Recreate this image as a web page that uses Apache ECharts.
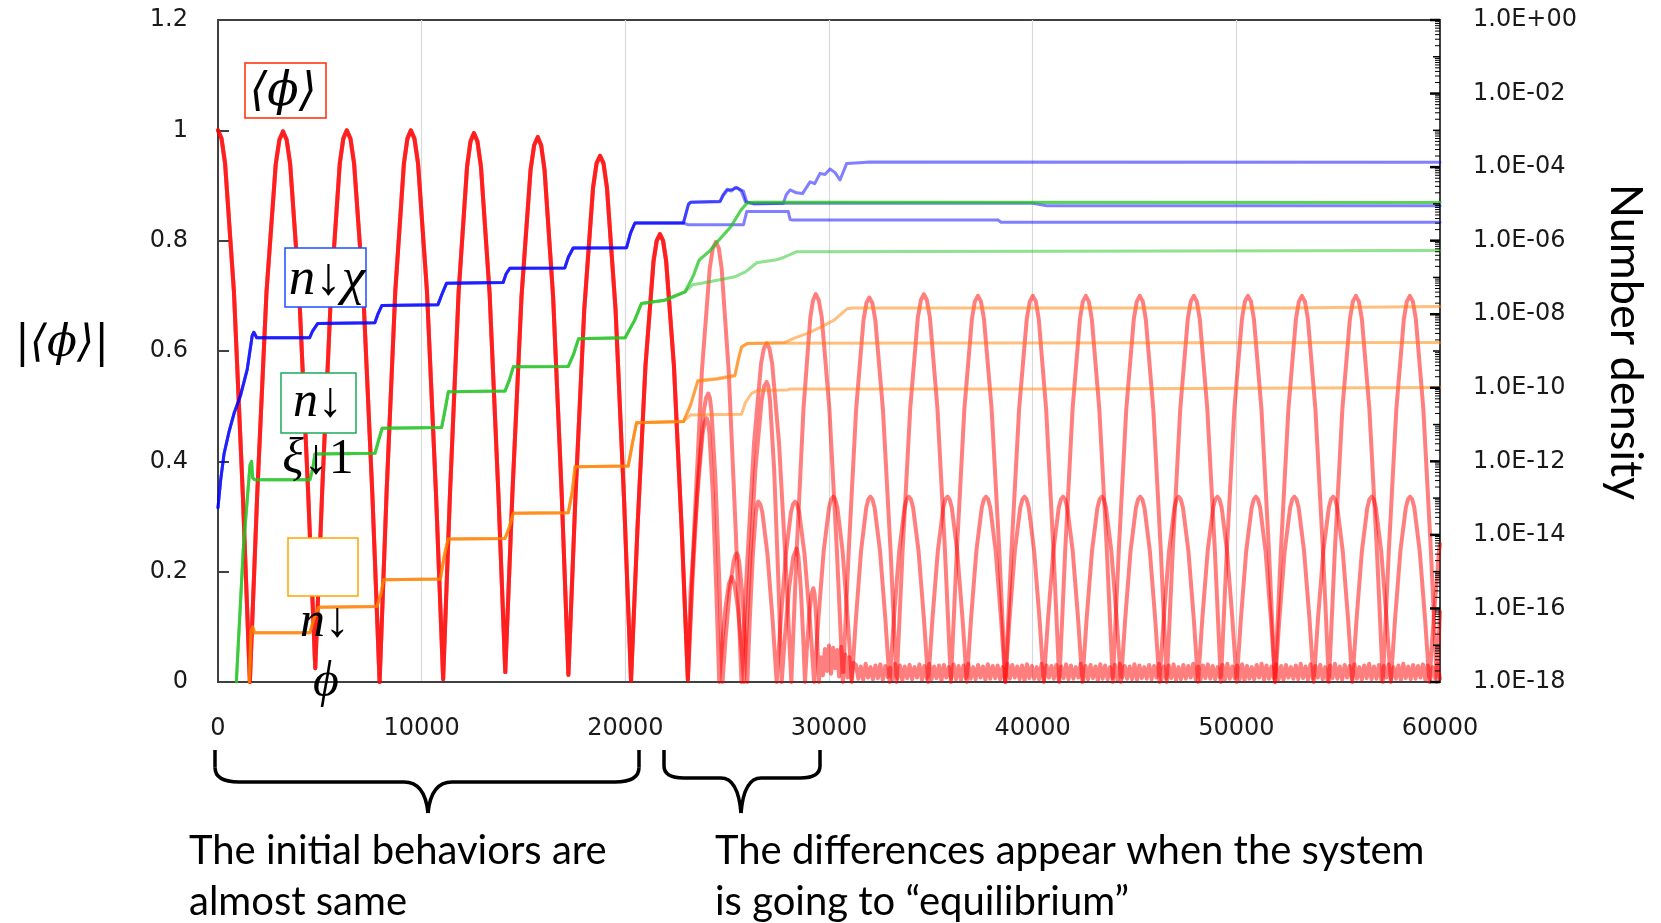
<!DOCTYPE html>
<html><head><meta charset="utf-8">
<script src="https://cdn.jsdelivr.net/npm/echarts@6/dist/echarts.min.js"></script>
<style>html,body{margin:0;padding:0;background:#fff}#c{width:1661px;height:923px}</style>
</head><body><div id="c"></div>
<script>
// ---------- axes ----------
const xTicks = [0, 10000, 20000, 30000, 40000, 50000, 60000];
const leftTicks = [0, 0.2, 0.4, 0.6, 0.8, 1, 1.2];
const rightExponents = [-18, -16, -14, -12, -10, -8, -6, -4, -2, 0];

// ---------- |<phi>| (left axis), shared part of the three runs ----------
const phiShared = [
[0,1.0],[174,0.985],[348,0.94],[783,0.707],[1217,0.342],[1565,0],
[1927,0.341],[2380,0.706],[2833,0.938],[3014,0.983],[3195,0.998],[3371,0.983],
[3546,0.938],[3985,0.706],[4425,0.345],[4776,0.025],
[5120,0.35],[5550,0.707],[5980,0.94],[6152,0.985],[6324,1.0],[6503,0.985],
[6682,0.94],[7130,0.707],[7577,0.342],[7935,0],
[8276,0.342],[8703,0.707],[9129,0.94],[9300,0.985],[9470,1.0],[9646,0.985],
[9822,0.94],[10262,0.707],[10703,0.342],[11055,0.005],
[11391,0.342],[11811,0.704],[12231,0.935],[12399,0.98],[12567,0.995],[12738,0.98],
[12909,0.935],[13336,0.704],[13763,0.345],[14105,0.018],
[14459,0.345],[14903,0.699],[15346,0.928],[15523,0.973],[15700,0.988],[15867,0.973],
[16034,0.928],[16453,0.699],[16871,0.345],[17205,0.013],
[17550,0.335],[17983,0.675],[18415,0.896],[18587,0.94],[18760,0.954],[18929,0.94],
[19098,0.896],[19520,0.675],[19942,0.326],[20280,0.002],
[20595,0.278],[20990,0.574],[21385,0.763],[21542,0.80],[21700,0.812],[21852,0.80],
[22004,0.763],[22385,0.574],[22766,0.278],[23070,0.004]
];
const phiLateA = [
[23376,0.273],[23760,0.564],[24144,0.75],[24297,0.786],[24450,0.798],[24589,0.786],
[24728,0.75],[25075,0.564],[25422,0.273],[25700,0],
[25975,0.21],[26320,0.434],[26665,0.577],[26802,0.605],[26940,0.614],[27074,0.605],
[27209,0.577],[27545,0.434],[27881,0.21],[28150,0],
[28416,0.24],[28750,0.497],[29083,0.661],[29217,0.692],[29350,0.703],[29498,0.692],
[29645,0.661],[30015,0.497],[30385,0.24],[30680,0],
[30969,0.238],[31330,0.493],[31691,0.655],[31836,0.687],[31980,0.697],[32129,0.687],
[32277,0.655],[32650,0.493],[33022,0.238],[33320,0],
[33617,0.24],[33990,0.497],[34362,0.661],[34511,0.692],[34660,0.703],[34807,0.692],
[34954,0.661],[35322,0.497],[35691,0.24],[35985,0],
[36279,0.239],[36647,0.495],[37016,0.658],[37163,0.69],[37310,0.70],[37460,0.69],
[37610,0.658],[37985,0.495],[38360,0.239],[38660,0],
[38960,0.239],[39335,0.495],[39710,0.658],[39860,0.69],[40010,0.70],[40155,0.69],
[40299,0.658],[40660,0.495],[41021,0.239],[41310,0],
[41599,0.239],[41960,0.495],[42321,0.658],[42465,0.69],[42610,0.70],[42757,0.69],
[42904,0.658],[43272,0.495],[43641,0.239],[43935,0],
[44229,0.239],[44597,0.495],[44966,0.658],[45113,0.69],[45260,0.70],[45407,0.69],
[45554,0.658],[45922,0.495],[46291,0.239],[46585,0],
[46879,0.239],[47247,0.495],[47616,0.658],[47763,0.69],[47910,0.70],[48058,0.69],
[48205,0.658],[48575,0.495],[48945,0.239],[49240,0],
[49535,0.239],[49905,0.495],[50275,0.658],[50422,0.69],[50570,0.70],[50717,0.69],
[50864,0.658],[51232,0.495],[51601,0.239],[51895,0],
[52189,0.239],[52557,0.495],[52926,0.658],[53073,0.69],[53220,0.70],[53367,0.69],
[53514,0.658],[53882,0.495],[54251,0.239],[54545,0],
[54839,0.239],[55207,0.495],[55576,0.658],[55723,0.69],[55870,0.70],[56017,0.69],
[56164,0.658],[56532,0.495],[56901,0.239],[57195,0],
[57489,0.239],[57857,0.495],[58226,0.658],[58373,0.69],[58520,0.70],[58667,0.69],
[58814,0.658],[59182,0.495],[59551,0.239],[59845,0],
[60000,0.128]
];
const phiLateB = [
[23293,0.179],[23572,0.37],[23852,0.491],[23964,0.515],[24075,0.523],[24152,0.515],
[24229,0.491],[24422,0.37],[24616,0.179],[24770,0],
[24925,0.08],[25120,0.165],[25315,0.219],[25392,0.229],[25470,0.233],[25528,0.229],
[25585,0.219],[25730,0.165],[25875,0.08],[25990,0],
[26110,0.112],[26260,0.231],[26410,0.307],[26470,0.322],[26530,0.327],[26630,0.322],
[26730,0.307],[26980,0.231],[27230,0.112],[27430,0],
[27630,0.112],[27880,0.231],[28130,0.307],[28230,0.322],[28330,0.327],[28434,0.322],
[28539,0.307],[28800,0.231],[29061,0.112],[29270,0],
[29479,0.115],[29740,0.238],[30001,0.316],[30105,0.331],[30210,0.336],[30311,0.331],
[30412,0.316],[30665,0.238],[30918,0.115],[31120,0],
[31322,0.115],[31575,0.238],[31828,0.316],[31929,0.331],[32030,0.336],[32135,0.331],
[32240,0.316],[32503,0.238],[32766,0.115],[32975,0],
[33185,0.115],[33448,0.238],[33710,0.316],[33815,0.331],[33920,0.336],[34025,0.331],
[34130,0.316],[34395,0.238],[34660,0.115],[34870,0],
[35080,0.115],[35345,0.238],[35610,0.316],[35715,0.331],[35820,0.336],[35925,0.331],
[36030,0.316],[36292,0.238],[36555,0.115],[36765,0],
[36975,0.115],[37237,0.238],[37500,0.316],[37605,0.331],[37710,0.336],[37815,0.331],
[37920,0.316],[38182,0.238],[38445,0.115],[38655,0],
[38865,0.115],[39127,0.238],[39390,0.316],[39495,0.331],[39600,0.336],[39705,0.331],
[39810,0.316],[40072,0.238],[40335,0.115],[40545,0],
[40755,0.115],[41017,0.238],[41280,0.316],[41385,0.331],[41490,0.336],[41595,0.331],
[41700,0.316],[41965,0.238],[42230,0.115],[42440,0],
[42650,0.115],[42915,0.238],[43180,0.316],[43285,0.331],[43390,0.336],[43495,0.331],
[43600,0.316],[43862,0.238],[44125,0.115],[44335,0],
[44545,0.115],[44807,0.238],[45070,0.316],[45175,0.331],[45280,0.336],[45385,0.331],
[45490,0.316],[45752,0.238],[46015,0.115],[46225,0],
[46435,0.115],[46697,0.238],[46960,0.316],[47065,0.331],[47170,0.336],[47275,0.331],
[47380,0.316],[47645,0.238],[47910,0.115],[48120,0],
[48330,0.115],[48595,0.238],[48860,0.316],[48965,0.331],[49070,0.336],[49175,0.331],
[49280,0.316],[49542,0.238],[49805,0.115],[50015,0],
[50225,0.115],[50487,0.238],[50750,0.316],[50855,0.331],[50960,0.336],[51065,0.331],
[51170,0.316],[51432,0.238],[51695,0.115],[51905,0],
[52115,0.115],[52377,0.238],[52640,0.316],[52745,0.331],[52850,0.336],[52955,0.331],
[53060,0.316],[53325,0.238],[53590,0.115],[53800,0],
[54010,0.115],[54275,0.238],[54540,0.316],[54645,0.331],[54750,0.336],[54855,0.331],
[54960,0.316],[55222,0.238],[55485,0.115],[55695,0],
[55905,0.115],[56167,0.238],[56430,0.316],[56535,0.331],[56640,0.336],[56745,0.331],
[56850,0.316],[57112,0.238],[57375,0.115],[57585,0],
[57795,0.115],[58057,0.238],[58320,0.316],[58425,0.331],[58530,0.336],[58635,0.331],
[58740,0.316],[59002,0.238],[59265,0.115],[59480,0],
[59690,0.115],[59953,0.238],[60000,0.25]
];
const phiLateC = [
[23200,0.163],[23530,0.338],[23790,0.449],[23893,0.471],[23995,0.478],[24063,0.471],
[24130,0.449],[24300,0.338],[24470,0.163],[24610,0],
[24745,0.065],[24915,0.134],[25085,0.178],[25220,0.19],
[25355,0.178],[25525,0.134],[25695,0.065],[25830,0],
[26076,0.186],[26385,0.385],[26694,0.511],[26817,0.536],[26940,0.544],[27022,0.536],
[27103,0.511],[27307,0.385],[27512,0.186],[27675,0],
[27838,0.083],[28042,0.171],[28247,0.227],[28410,0.242],
[28500,0.227],[28615,0.171],[28730,0.083],[28820,0],
[28910,0.058],[29025,0.12],[29140,0.16],[29230,0.17],
[29290,0.16],[29365,0.12],[29440,0.058],[29500,0],
[29600,0.045],[29700,0.012],[29800,0.06],[29900,0.02],[30000,0.066],
[30100,0.015],[30200,0.062],[30300,0.025],[30400,0.058],[30500,0.01],
[30600,0.064],[30700,0.018],[30800,0.05],[30900,0.008],[31000,0.045],
[31100,0.005],[31200,0.035]
];
// run C after t = 31200: noisy residual, one value every 120 time units (in 1/1000)
const noiseStart = 31320, noiseStep = 120;
const phiNoiseC = [
31,6,28,4,33,8,27,5,30,7,32,4,29,9,26,5,33,6,30,3,
28,7,31,5,27,8,32,4,29,6,33,5,28,7,30,3,31,8,27,6,
32,5,29,4,30,7,33,6,27,5,31,8,28,4,32,6,29,7,30,5,
27,4,33,6,31,8,28,5,30,3,32,7,29,6,27,5,33,4,30,8,
29,6,31,4,28,7,32,5,30,6,27,8,33,4,29,5,31,7,28,3,
32,6,30,5,27,7,31,4,33,8,29,6,28,5,32,4,30,7,27,6,
31,5,29,8,33,4,28,6,30,7,32,3,27,5,31,6,29,8,33,5,
28,4,30,7,32,6,29,5,27,8,31,4,33,6,28,7,30,5,32,3,
29,6,27,5,31,8,33,4,30,6,28,7,32,5,29,4,31,8,27,6,
30,5,33,7,28,4,32,6,29,8,31,5,27,3,30,7,33,6,28,4,
31,8,29,5,32,6,27,4,30,7,33,5,28,6,31,4,29,8,32,5,
27,6,30,4,33,7,28,5,31,6,29,8,32,4,30,5,27,7,33,6
];

// ---------- number densities (right axis), stored as log10(n) ----------
const nChiShared = [
[0,-13.26],[130,-12.51],[295,-11.8],[540,-11.2],[785,-10.7],[1110,-10.2],[1435,-9.5],
[1680,-8.58],[1760,-8.49],[1900,-8.64],[4500,-8.64],[4650,-8.45],[4900,-8.25],
[7700,-8.23],[7850,-8.0],[8050,-7.76],[10800,-7.74],[11000,-7.45],[11220,-7.16],
[14000,-7.14],[14150,-6.9],[14330,-6.75],[17030,-6.74],[17200,-6.45],[17440,-6.2],
[20060,-6.19],[20250,-5.8],[20470,-5.52],[22850,-5.52]
];
const nChiLateA = [
[22930,-5.5],[23100,-5.0],[23200,-4.95],[24650,-4.93],[24800,-4.75],[25000,-4.6],
[25200,-4.65],[25400,-4.55],[25600,-4.6],[25800,-4.65],[25960,-4.95],[26300,-5.0],
[27760,-4.98],[27900,-4.75],[28090,-4.62],[28400,-4.7],[28700,-4.72],[29070,-4.4],
[29300,-4.45],[29560,-4.17],[29800,-4.2],[30050,-4.05],[30300,-4.15],[30540,-4.35],
[30870,-3.9],[31500,-3.88],[32010,-3.86],[60000,-3.87]
];
const nChiLateB = [
[22930,-5.55],[23100,-5.57],[25800,-5.57],[25960,-5.21],[28000,-5.21],[28090,-5.42],
[28200,-5.44],[38300,-5.44],[38450,-5.5],[60000,-5.5]
];
const nChiLateC = [
[22930,-5.5],[23100,-5.02],[23200,-4.96],[24650,-4.94],[24800,-4.78],[25000,-4.63],
[25300,-4.6],[25500,-4.56],[25700,-4.66],[25900,-4.95],[26300,-4.98],[40000,-4.98],
[40700,-5.05],[60000,-5.05]
];

const nXiShared = [
[900,-18],[1240,-14.4],[1571,-12.1],[1650,-12.0],[1700,-12.45],[1800,-12.5],
[4517,-12.5],[4650,-12.2],[4760,-11.8],[7710,-11.78],[7900,-11.4],[8060,-11.1],
[10980,-11.08],[11150,-10.6],[11310,-10.11],[14090,-10.09],[14300,-9.8],[14500,-9.43],
[17200,-9.42],[17450,-9.1],[17700,-8.67],[19990,-8.64],[20460,-8.16],[20790,-7.71],
[21930,-7.62],[22930,-7.39]
];
const nXiLateA = [
[23300,-7.0],[23600,-6.55],[24100,-6.3],[24500,-6.05],[25150,-5.65],[25640,-5.2],
[25960,-4.98],[26300,-4.96],[60000,-4.965]
];
const nXiLateB = [
[23300,-7.2],[23750,-7.16],[25390,-6.98],[25900,-6.85],[26120,-6.75],[26450,-6.6],
[27430,-6.52],[27800,-6.45],[28420,-6.3],[60000,-6.27]
];
const nXiLateC = [
[23350,-6.95],[23650,-6.5],[24150,-6.28],[24550,-6.0],[25200,-5.6],[25700,-5.15],
[26000,-4.97],[26400,-4.95],[60000,-4.96]
];

const nPhiShared = [
[1540,-18],[1620,-16.6],[1700,-16.5],[1800,-16.66],[4517,-16.66],[4700,-16.3],[4930,-15.97],
[7800,-15.95],[8000,-15.6],[8130,-15.22],[10920,-15.2],[11100,-14.6],[11300,-14.11],
[14090,-14.1],[14300,-13.8],[14500,-13.41],[17200,-13.4],[17400,-12.8],[17530,-12.15],
[20140,-12.13],[20350,-11.5],[20550,-10.95],[22850,-10.92]
];
const nPhiLateA = [
[23200,-10.5],[23560,-9.8],[24500,-9.75],[25380,-9.66],[25550,-9.2],[25710,-8.88],
[26000,-8.8],[27810,-8.77],[28300,-8.65],[28940,-8.52],[29600,-8.35],[30250,-8.16],
[30900,-7.85],[31200,-7.83],[52300,-7.83],[52350,-7.79],[60000,-7.79]
];
const nPhiLateB = [
[23200,-10.74],[25700,-10.72],[25900,-10.4],[26190,-10.155],[26500,-10.07],[27970,-10.06],
[28100,-10.03],[41400,-10.03],[41450,-9.99],[60000,-9.99]
];
const nPhiLateC = [
[23200,-10.45],[23560,-9.82],[24500,-9.77],[25380,-9.68],[25550,-9.25],[25710,-8.9],
[26000,-8.79],[60000,-8.77]
];

// ---------- build ----------
const noisePairs = phiNoiseC.map((v, i) => [noiseStart + i * noiseStep, v / 1000]);
const runs = {
  phi: [phiShared.concat(phiLateA), phiShared.concat(phiLateB), phiShared.concat(phiLateC, noisePairs)],
  chi: [nChiShared.concat(nChiLateA), nChiShared.concat(nChiLateB), nChiShared.concat(nChiLateC)],
  xi:  [nXiShared.concat(nXiLateA),  nXiShared.concat(nXiLateB),  nXiShared.concat(nXiLateC)],
  nphi:[nPhiShared.concat(nPhiLateA), nPhiShared.concat(nPhiLateB), nPhiShared.concat(nPhiLateC)]
};
const colors = {phi:'#ff0000', chi:'#0000ff', xi:'#22c422', nphi:'#ff8000'};

function lineSeries(data, color, yIdx, width) {
  return {type:'line', data, yAxisIndex:yIdx, xAxisIndex:0, showSymbol:false, symbol:'none',
    silent:true, animation:false, clip:true,
    lineStyle:{color, width, opacity:0.5, join:'round', cap:'round'}, itemStyle:{color}};
}
const series = [];
runs.phi.forEach(d => series.push(lineSeries(d, colors.phi, 0, 4)));
runs.chi.forEach(d => series.push(lineSeries(d, colors.chi, 1, 3)));
runs.xi.forEach(d => series.push(lineSeries(d, colors.xi, 1, 3)));
runs.nphi.forEach(d => series.push(lineSeries(d, colors.nphi, 1, 3)));

// log-style ticks on the right axis (exponent, length, width)
const rightTickMarks = [];
for (let d = -18; d <= 0; d++) {
  rightTickMarks.push([60000, d, d % 2 === 0 ? 10 : 7, d % 2 === 0 ? 2.5 : 1.5]);
  if (d < 0) for (let m = 2; m <= 9; m++) rightTickMarks.push([60000, d + Math.log10(m), 5, 1]);
}
series.push({
  type:'custom', xAxisIndex:0, yAxisIndex:1, silent:true, animation:false, clip:false, z:5,
  data: rightTickMarks, encode:{x:0, y:1},
  renderItem(params, api) {
    const p = api.coord([api.value(0), api.value(1)]);
    const len = api.value(2);
    return {type:'line', shape:{x1:p[0] - len, y1:p[1], x2:p[0], y2:p[1]},
      style:{stroke:'#000', lineWidth:api.value(3)}};
  }
});

function sciLabel(v) {
  const e = Math.round(v);
  if (e % 2 !== 0) return '';
  const a = Math.abs(e);
  return '1.0E' + (e < 0 ? '-' : '+') + (a < 10 ? '0' : '') + a;
}

const tickFont = {fontFamily:'DejaVu Sans', fontSize:24, color:'#1a1a1a'};
const serifI = 'italic 50px "Liberation Serif", "DejaVu Serif", serif';
function txt(text, x, y, font, extra) {
  return Object.assign({type:'text', z:101, x, y, style:{text, font, fill:'#000',
    textAlign:'center', textVerticalAlign:'middle', align:'center', verticalAlign:'middle'}}, extra || {});
}
function box(x, y, w, h, stroke) {
  return {type:'rect', z:100, shape:{x, y, width:w, height:h}, style:{fill:'#fff', stroke, lineWidth:1.5}};
}
const labelFont = '40px Lato, "Open Sans", sans-serif';
function leftTxt(text, x, y) {
  return {type:'text', z:101, x, y, style:{text, font:labelFont, fill:'#000',
    textAlign:'left', textVerticalAlign:'middle', align:'left', verticalAlign:'middle'}};
}
// curly brace built from straight and quadratic pieces
function brace(xl, xr, xm, yTop, yBar, yTip, r) {
  const st = {stroke:'#000', lineWidth:3.5, fill:null};
  const L = (x1, y1, x2, y2) => ({type:'line', z:100, shape:{x1, y1, x2, y2}, style:st});
  const Q = (x1, y1, cx, cy, x2, y2) => ({type:'bezierCurve', z:100, shape:{x1, y1, cpx1:cx, cpy1:cy, x2, y2}, style:st});
  return [
    L(xl, yTop, xl, yBar - r * 0.6),
    Q(xl, yBar - r * 0.6, xl, yBar, xl + r, yBar),
    L(xl + r, yBar, xm - r, yBar),
    Q(xm - r, yBar, xm - 3, yBar, xm, yTip),
    Q(xm, yTip, xm + 3, yBar, xm + r, yBar),
    L(xm + r, yBar, xr - r, yBar),
    Q(xr - r, yBar, xr, yBar, xr, yBar - r * 0.6),
    L(xr, yBar - r * 0.6, xr, yTop)
  ];
}

const option = {
  animation:false,
  backgroundColor:'#fff',
  grid:{left:218, right:221, top:20, bottom:241, show:true, borderColor:'#404040', borderWidth:2, backgroundColor:'transparent'},
  xAxis:{type:'value', min:xTicks[0], max:xTicks[xTicks.length-1], interval:10000,
    axisLine:{show:true, lineStyle:{color:'#404040', width:2}}, axisTick:{show:false},
    axisLabel:Object.assign({margin:35, formatter: v => String(v)}, tickFont),
    splitLine:{show:true, lineStyle:{color:'#d9d9d9', width:1.2}}},
  yAxis:[
    {type:'value', min:leftTicks[0], max:leftTicks[leftTicks.length-1], interval:0.2, position:'left',
      axisLine:{show:true, lineStyle:{color:'#404040', width:2}},
      axisTick:{show:true, inside:true, length:11, lineStyle:{color:'#404040', width:2}},
      axisLabel:Object.assign({margin:30, formatter: v => v === 0 ? '0' : String(Math.round(v*10)/10)}, tickFont),
      splitLine:{show:false}},
    {type:'value', min:rightExponents[0], max:rightExponents[rightExponents.length-1], interval:1, position:'right',
      axisLine:{show:true, lineStyle:{color:'#404040', width:2}},
      axisTick:{show:false},
      axisLabel:Object.assign({margin:33, formatter: sciLabel}, tickFont),
      splitLine:{show:false}}
  ],
  series,
  graphic:[
    txt('|⟨ϕ⟩|', 62, 345, 'italic 44px "DejaVu Serif", serif'),
    box(245, 63, 81, 55, '#ff2a00'),
    txt('⟨ϕ⟩', 283, 93, 'italic 46px "DejaVu Serif", serif'),
    box(285, 248, 81, 59, '#1f4fff'),
    txt('n↓χ', 327, 280, 'italic 53px "Liberation Serif", "DejaVu Serif", serif'),
    box(281, 373, 75, 60, '#1aaa5a'),
    txt('n↓', 318, 403, serifI),
    {type:'text', z:101, x:318, y:460, style:{text:'{a|ξ↓}{b|1}', fill:'#000',
      textAlign:'center', textVerticalAlign:'middle', align:'center', verticalAlign:'middle',
      rich:{a:{font:serifI, fill:'#000'}, b:{font:'50px "Liberation Serif", "DejaVu Serif", serif', fill:'#000'}}}},
    box(288, 538, 70, 58, '#ffa500'),
    txt('n↓', 325, 623, serifI),
    txt('ϕ', 326, 683, serifI)
  ].concat(
    brace(215, 639, 428, 750, 782, 813, 24),
    brace(664, 820, 741, 750, 778, 813, 20),
    [
    leftTxt('The initial behaviors are', 189, 851),
    leftTxt('almost same', 189, 902),
    leftTxt('The differences appear when the system', 715, 851),
    leftTxt('is going to “equilibrium”', 715, 902),
    txt('Number density', 1626, 342, '45px Lato, "Open Sans", sans-serif', {rotation:-Math.PI/2})
    ])
};
const chart = echarts.init(document.getElementById('c'), null, {renderer:'canvas'});
chart.setOption(option);
</script></body></html>
